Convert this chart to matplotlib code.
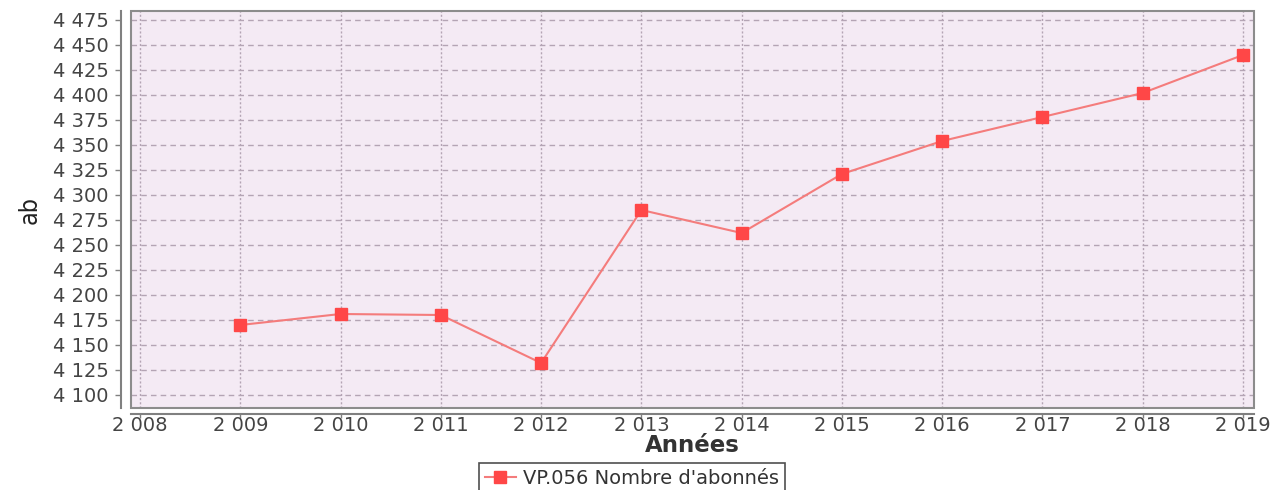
import matplotlib
matplotlib.use("Agg")
import matplotlib.pyplot as plt
from matplotlib.patches import Rectangle
from matplotlib.ticker import FuncFormatter, MultipleLocator

years = [2009, 2010, 2011, 2012, 2013, 2014, 2015, 2016, 2017, 2018, 2019]
abonnes = [4170, 4181, 4180, 4132, 4285, 4262, 4321, 4354, 4378, 4402, 4440]
series_label = "VP.056 Nombre d'abonnés"
x_label = "Années"
y_label = "ab"

W, H = 1279, 490
fig = plt.figure(figsize=(W / 100, H / 100), dpi=100)
L, R, T, B = 131, 1254, 11, 408
ax = fig.add_axes([L / W, 1 - B / H, (R - L) / W, (B - T) / H])
ax.set_facecolor("#F4EAF4")

ax.set_xlim(2007.91, 2019.11)
ax.set_ylim(4087, 4484)
ax.xaxis.set_major_locator(MultipleLocator(1))
ax.yaxis.set_major_locator(MultipleLocator(25))

def fmt(v, pos):
    return f"{int(round(v)):,}".replace(",", " ")

ax.xaxis.set_major_formatter(FuncFormatter(fmt))
ax.yaxis.set_major_formatter(FuncFormatter(fmt))

ax.grid(True, axis="y", color="#B4A4B4", linestyle=(0, (4, 3)), linewidth=1)
ax.grid(True, axis="x", color="#B4A4B4", linestyle=(0, (1.5, 1.5)), linewidth=1)
ax.set_axisbelow(True)

ax.plot(years, abonnes, color="#F47C7C", linewidth=1.5, marker="s",
        markersize=8.5, markerfacecolor="#FF4747", markeredgecolor="#FF4747",
        label=series_label, zorder=3)

for s in ["top", "right"]:
    ax.spines[s].set_visible(False)
ax.spines["left"].set_position(("outward", 7))
ax.spines["bottom"].set_position(("outward", 4))
for s in ["left", "bottom"]:
    ax.spines[s].set_color("#808080")
    ax.spines[s].set_linewidth(1.5)

ax.add_patch(Rectangle((0, 0), 1, 1, transform=ax.transAxes, fill=False,
                       edgecolor="#8C8C8C", linewidth=1.5, zorder=5, clip_on=False))

ax.tick_params(axis="both", colors="#808080", labelcolor="#444444",
               labelsize=14, length=4, width=1)
ax.tick_params(axis="y", pad=5)
ax.tick_params(axis="x", length=3, pad=-1)

fig.text(692 / W, 1 - 445 / H, x_label, fontsize=16.5, fontweight="bold",
         color="#333333", ha="center", va="center")
ax.set_ylabel(y_label, fontsize=18, color="#222222", labelpad=8,
              fontstretch="condensed")

leg = fig.legend(loc="upper center", bbox_to_anchor=(632 / W, 1 - 463 / H),
                 ncol=1, frameon=True, fontsize=14, fancybox=False,
                 edgecolor="#222222", handlelength=1.6, borderpad=0.3,
                 borderaxespad=0, handletextpad=0.4)
leg.get_frame().set_linewidth(1.2)
for t in leg.get_texts():
    t.set_color("#333333")

fig.savefig("out.png", dpi=100)
